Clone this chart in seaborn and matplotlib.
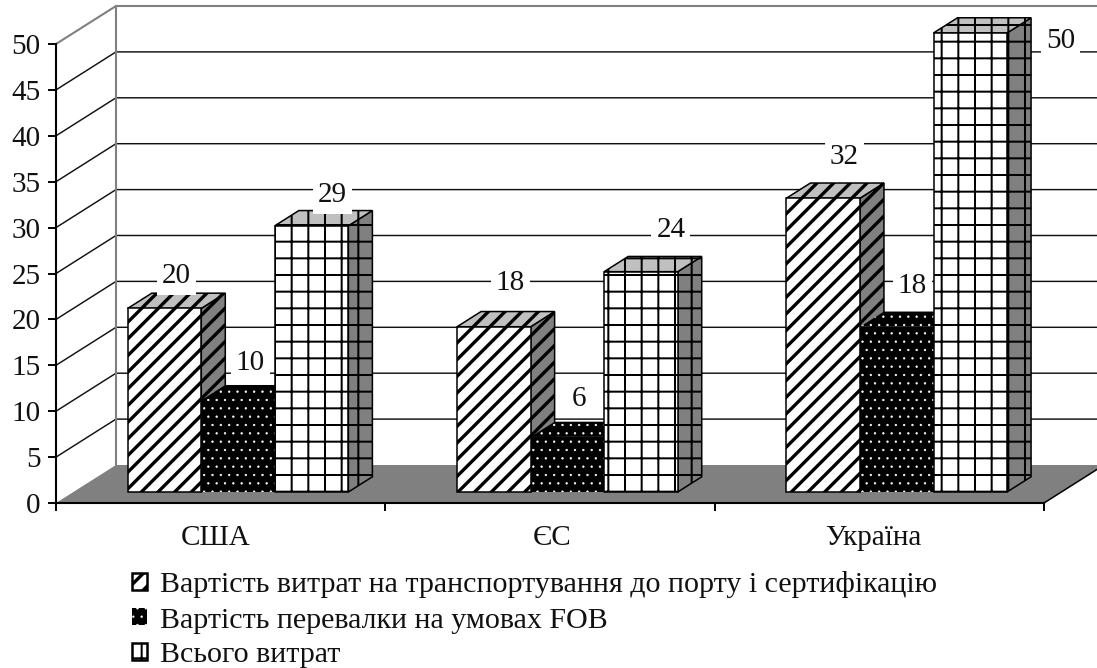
import matplotlib
matplotlib.use("Agg")
import matplotlib.pyplot as plt
from matplotlib.patches import Polygon, Rectangle
import pandas as pd
import seaborn as sns

regions = ["США", "ЄС", "Україна"]
series_names = [
    "Вартість витрат на транспортування до порту і сертифікацію",
    "Вартість перевалки на умовах FOB",
    "Всього витрат",
]
transport_costs = [20, 18, 32]
transshipment_costs = [10, 6, 18]
total_costs = [29, 24, 50]
value_ticks = list(range(0, 55, 5))

# Label placement relative to each bar's top-centre, in pixels (right, up)
label_shifts = [
    [(11.5, 35), (16.5, 47), (21, 44)],
    [(12, 40), (11.5, 41), (15.5, 44)],
    [(21, 34), (30, 45), (90, -5)],
]
# Category names sit slightly off the slot centres
name_nudges = [-0.014, 0.006, -0.018]

W, H = 1097, 668
DPI = 100
AX_L, AX_R, AX_TOP, AX_BOTTOM = 56, 1044, 44, 503
PX_X = (AX_R - AX_L) / 3
PX_Y = (AX_BOTTOM - AX_TOP) / 50

# Oblique projection: one unit of depth moves a point right and up
DEPTH_X = 60 / PX_X
DEPTH_Y = 38 / PX_Y
BAR_FRONT = 0.29
BAR_DEPTH = 0.40


def proj(x, y, d):
    return (x + DEPTH_X * d, y + DEPTH_Y * d)


sns.set_theme(style="white")
plt.rcParams["font.family"] = ["Liberation Serif", "DejaVu Serif"]

frame = pd.DataFrame(
    {
        "region": regions * 3,
        "series": [s for s in series_names for _ in regions],
        "value": transport_costs + transshipment_costs + total_costs,
    }
)

fig = plt.figure(figsize=(W / DPI, H / DPI), dpi=DPI)
ax = fig.add_axes([AX_L / W, 1 - AX_BOTTOM / H, (AX_R - AX_L) / W, (AX_BOTTOM - AX_TOP) / H])

sns.barplot(
    data=frame, x="region", y="value", hue="series", hue_order=series_names,
    order=regions, width=0.67, gap=0, saturation=1, errorbar=None,
    palette=["white", "black", "white"], edgecolor="black", linewidth=1.1, ax=ax,
)

XMIN, XMAX = -0.5, 2.5
ax.set_xlim(XMIN, XMAX)
ax.set_ylim(0, 50)
ax.set_xlabel("")
ax.set_ylabel("")

# Walls, grid and floor
GRID = "#111111"
WALL = "#808080"
for v in value_ticks[1:-1]:
    xs, ys = zip(proj(XMIN, v, 0), proj(XMIN, v, 1), proj(XMAX + 0.2, v, 1))
    ax.plot(xs, ys, color=GRID, lw=1.05, zorder=1, clip_on=False, solid_joinstyle="miter")
xs, ys = zip(proj(XMIN, 50, 0), proj(XMIN, 50, 1), proj(XMAX + 0.2, 50, 1))
ax.plot(xs, ys, color=WALL, lw=1.5, zorder=1, clip_on=False)
xs, ys = zip(proj(XMIN, 0, 1), proj(XMIN, 50, 1))
ax.plot(xs, ys, color=WALL, lw=1.5, zorder=1.2, clip_on=False)
ax.add_patch(Polygon(
    [proj(XMIN, 0, 0), proj(XMIN, 0, 1), proj(XMAX, 0, 1), proj(XMAX, 0, 0)],
    closed=True, facecolor=WALL, edgecolor="none", zorder=1.7, clip_on=False,
))
xs, ys = zip(proj(XMAX, 0, 0), proj(XMAX, 0, 1))
ax.plot(xs, ys, color="black", lw=1.1, zorder=1.8, clip_on=False)

# Bars pushed back onto their plane, with side and top faces added
hatches = ["//", "..", "+"]
hatch_widths = [2.4, 0.45, 1.45]
for i, container in enumerate(ax.containers):
    hatch = hatches[i]
    dark = i == 1
    for patch in container.patches:
        x0, y0 = proj(patch.get_x(), 0, BAR_FRONT)
        w, h = patch.get_width(), patch.get_height()
        patch.set_x(x0)
        patch.set_y(y0)
        patch.set_hatch(hatch)
        patch.set_hatch_linewidth(hatch_widths[i])
        patch.set_zorder(3 + i + 0.5)
        patch.set_clip_on(False)
        if dark:
            patch.set_edgecolor("white")
            patch.set_linewidth(0)
        dx, dy = proj(0, 0, BAR_DEPTH)
        side = [(x0 + w, y0), (x0 + w + dx, y0 + dy), (x0 + w + dx, y0 + dy + h), (x0 + w, y0 + h)]
        top = [(x0, y0 + h), (x0 + w, y0 + h), (x0 + w + dx, y0 + h + dy), (x0 + dx, y0 + h + dy)]
        for pts, face in ((side, "#808080"), (top, "#c0c0c0")):
            poly = Polygon(
                pts, closed=True, hatch=hatch,
                facecolor="black" if dark else face,
                edgecolor="white" if dark else "black",
                linewidth=0 if dark else 1.1,
                zorder=3 + i, clip_on=False,
            )
            poly.set_hatch_linewidth(hatch_widths[i])
            ax.add_patch(poly)

# Value labels on white boxes that interrupt the grid
for i, container in enumerate(ax.containers):
    for j, patch in enumerate(container.patches):
        value = patch.get_height()
        sx, sy = label_shifts[i][j]
        lx = patch.get_x() + patch.get_width() / 2 + sx / PX_X
        ly = patch.get_y() + value + sy / PX_Y
        text = str(int(value))
        bw = (len(text) * 14 + 11) / PX_X
        bh = 44 / PX_Y
        ax.add_patch(Rectangle(
            (lx - bw / 2, ly - bh / 2), bw, bh, facecolor="white", edgecolor="none",
            zorder=10, clip_on=False,
        ))
        ax.text(lx, ly, text, ha="center", va="center_baseline", fontsize=21, color="#111111",
                zorder=11, clip_on=False)

# Axes: ticks between categories, names centred in each slot
sns.despine(ax=ax)
for side in ("left", "bottom"):
    ax.spines[side].set_linewidth(1.5)
    ax.spines[side].set_color("black")
ax.set_yticks(value_ticks)
ax.set_xticks([-0.5, 0.5, 1.5, 2.5], labels=[])
ax.set_xticks([k + n for k, n in enumerate(name_nudges)], labels=regions, minor=True)
ax.tick_params(axis="y", which="major", left=True, length=6, width=1.4, pad=5,
               labelsize=21, labelcolor="#111111", color="black")
ax.tick_params(axis="x", which="major", bottom=True, length=5.5, width=1.4, color="black")
ax.tick_params(axis="x", which="minor", bottom=True, length=0, pad=16, labelsize=21,
               labelcolor="#111111")
for tick_label in ax.get_yticklabels():
    tick_label.set_verticalalignment("center_baseline")

handles = [c.patches[0] for c in ax.containers]
legend = ax.legend(
    handles, series_names, loc="upper left", frameon=False, fontsize=21.6,
    bbox_to_anchor=(132 / W, 1 - 571.5 / H), bbox_transform=fig.transFigure,
    handlelength=0.5, handleheight=0.5, handletextpad=0.43, labelspacing=0.3,
    borderpad=0, borderaxespad=0,
)
for text in legend.get_texts():
    text.set_color("#111111")
for idx, (handle, width) in enumerate(zip(legend.legend_handles, hatch_widths)):
    handle.set_hatch_linewidth(width)
    handle.set_linewidth(0 if idx == 1 else 1.8)

fig.savefig("out.png", dpi=DPI)
